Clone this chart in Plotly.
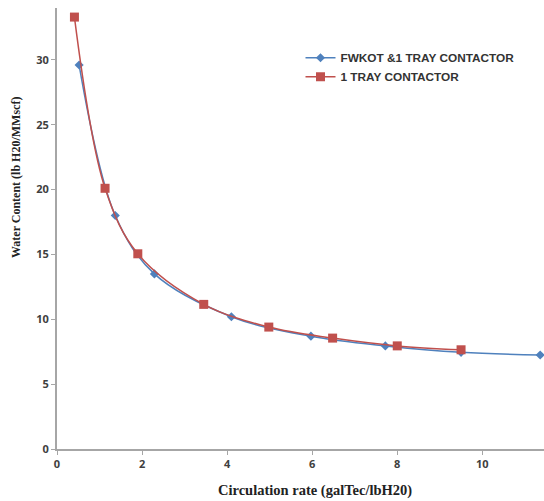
import plotly.graph_objects as go

# Data
blue_x = [0.52, 1.37, 2.29, 4.1, 5.97, 7.72, 9.5, 11.36]
blue_y = [29.6, 18.0, 13.5, 10.2, 8.7, 7.95, 7.45, 7.25]
red_x = [0.41, 1.13, 1.9, 3.45, 4.98, 6.48, 8.0, 9.5]
red_y = [33.3, 20.1, 15.05, 11.15, 9.4, 8.55, 7.95, 7.65]

blue_name = "FWKOT &1 TRAY CONTACTOR"
red_name = "1 TRAY CONTACTOR"
x_title = "Circulation rate (galTec/lbH20)"
y_title = "Water Content (lb H20/MMscf)"

fig = go.Figure()
fig.add_trace(go.Scatter(
    x=blue_x, y=blue_y, name=blue_name, mode="lines+markers",
    line=dict(color="#4F81BD", width=1.5, shape="spline"),
    marker=dict(symbol="diamond", size=7, color="#4F81BD"),
))
fig.add_trace(go.Scatter(
    x=red_x, y=red_y, name=red_name, mode="lines+markers",
    line=dict(color="#C0504D", width=1.5, shape="spline"),
    marker=dict(symbol="square", size=9, color="#C0504D"),
))

axis_common = dict(
    showgrid=False, zeroline=False, showline=True, linecolor="#A6A6A6", linewidth=2,
    ticks="outside", ticklen=4, tickcolor="#A6A6A6", tickwidth=1,
    tickfont=dict(family="Open Sans", size=11, color="#404040", weight="bold"),
)

fig.update_layout(
    width=544, height=501,
    margin=dict(l=57, r=0, t=8, b=52),
    paper_bgcolor="white", plot_bgcolor="white",
    xaxis=dict(range=[0, 11.45], dtick=2, **axis_common),
    yaxis=dict(range=[0, 34], dtick=5, **axis_common),
    legend=dict(x=0.5, y=0.92, xanchor="left", yanchor="top",
                font=dict(family="Liberation Sans", size=11.8, color="#333", weight="bold"),
                bgcolor="rgba(0,0,0,0)", tracegroupgap=2, itemwidth=30),
    showlegend=True,
    annotations=[
        dict(text=x_title, xref="paper", yref="paper", x=(315 - 57) / 487, y=-(490 - 449) / 441,
             xanchor="center", yanchor="middle", showarrow=False,
             font=dict(family="Liberation Serif", size=14.5, color="#222", weight="bold")),
        dict(text=y_title, xref="paper", yref="paper", x=-(57 - 16) / 487, y=(449 - 178) / 441,
             xanchor="center", yanchor="middle", showarrow=False, textangle=-90,
             font=dict(family="Liberation Serif", size=12, color="#222", weight="bold")),
    ],
)

fig.write_html("out.html")
